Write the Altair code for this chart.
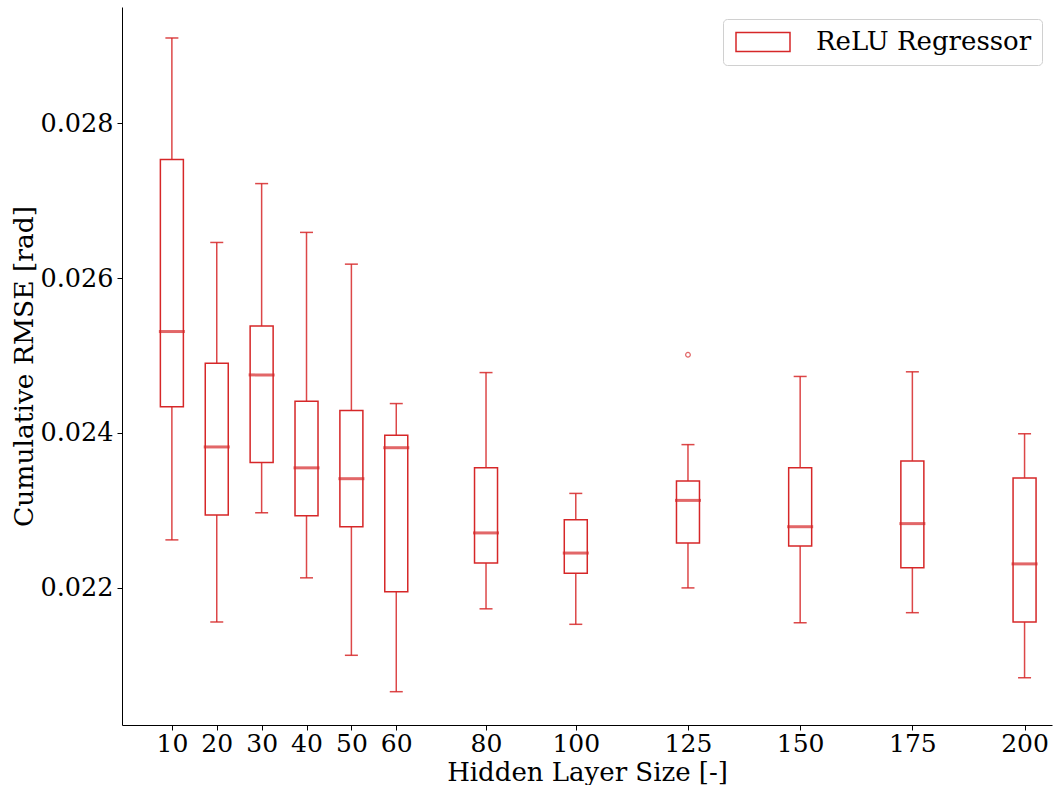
import altair as alt
import pandas as pd

sizes = [10, 20, 30, 40, 50, 60, 80, 100, 125, 150, 175, 200]
whisk_lo = [0.02262, 0.02156, 0.02297, 0.02213, 0.02113, 0.02066, 0.02173, 0.02153, 0.02200, 0.02155, 0.02168, 0.02084]
q1 = [0.02434, 0.02294, 0.02362, 0.02293, 0.02279, 0.02195, 0.02232, 0.02219, 0.02258, 0.02254, 0.02226, 0.02156]
median = [0.02531, 0.02382, 0.02475, 0.02355, 0.02341, 0.02381, 0.02271, 0.02245, 0.02313, 0.02279, 0.02283, 0.02231]
q3 = [0.02753, 0.02490, 0.02538, 0.02441, 0.02429, 0.02397, 0.02355, 0.02288, 0.02338, 0.02355, 0.02364, 0.02342]
whisk_hi = [0.02910, 0.02646, 0.02722, 0.02659, 0.02618, 0.02438, 0.02478, 0.02322, 0.02385, 0.02473, 0.02479, 0.02399]
outlier_x = [125]
outlier_y = [0.02501]
series = "ReLU Regressor"

RED = "#d62728"
FONT = "DejaVu Serif"

df = pd.DataFrame({"size": sizes, "lo": whisk_lo, "q1": q1, "med": median,
                   "q3": q3, "hi": whisk_hi, "series": series})
dfo = pd.DataFrame({"size": outlier_x, "val": outlier_y})

xscale = alt.Scale(domain=[0, 205], nice=False, zero=False)
yscale = alt.Scale(domain=[0.02023, 0.02950], nice=False, zero=False)

xax = alt.Axis(values=sizes, title="Hidden Layer Size [-]", grid=False,
               labelFont=FONT, labelFontSize=25, titleFont=FONT, titleFontSize=26,
               titleFontWeight="normal", labelColor="black", titleColor="black",
               tickSize=5, tickColor="black", domainColor="black", labelPadding=1,
               titlePadding=3, labelFlush=False, labelOverlap=False)
yax = alt.Axis(values=[0.022, 0.024, 0.026, 0.028], format=".3f", title="Cumulative RMSE [rad]",
               grid=False, labelFont=FONT, labelFontSize=25.5, titleFont=FONT, titleFontSize=26.5,
               titleFontWeight="normal", labelColor="black", titleColor="black",
               tickSize=5, tickColor="black", domainColor="black", labelPadding=4,
               titlePadding=1, labelFlush=False)

base = alt.Chart(df)

x = alt.X("size:Q", scale=xscale, axis=xax)

whisk_low = base.mark_rule(color=RED, strokeWidth=1.5, opacity=0.85).encode(
    x=x, y=alt.Y("lo:Q", scale=yscale, axis=yax), y2="q1:Q")
whisk_high = base.mark_rule(color=RED, strokeWidth=1.5, opacity=0.85).encode(
    x=alt.X("size:Q", scale=xscale), y=alt.Y("q3:Q", scale=yscale), y2="hi:Q")
cap_lo = base.mark_tick(color=RED, orient="horizontal", size=13, thickness=1.5, opacity=0.85).encode(
    x=alt.X("size:Q", scale=xscale), y=alt.Y("lo:Q", scale=yscale))
cap_hi = base.mark_tick(color=RED, orient="horizontal", size=13, thickness=1.5, opacity=0.85).encode(
    x=alt.X("size:Q", scale=xscale), y=alt.Y("hi:Q", scale=yscale))
box = base.mark_bar(size=23, fill="white", fillOpacity=0, strokeWidth=1.5).encode(
    x=alt.X("size:Q", scale=xscale), y=alt.Y("q1:Q", scale=yscale), y2="q3:Q",
    stroke=alt.Stroke("series:N", scale=alt.Scale(range=[RED]),
                      legend=alt.Legend(title=None, orient="none", legendX=601, legendY=12,
                                        symbolType="M-1,-0.95H4.4V0.95H-1Z", symbolSize=400,
                                        symbolStrokeWidth=1.5, symbolFillColor="white",
                                        labelFont=FONT, labelFontSize=26, labelColor="black",
                                        labelOffset=57, padding=10, strokeColor="#d0d0d0",
                                        fillColor="white", cornerRadius=4, labelLimit=400)))
med = base.mark_tick(color=RED, orient="horizontal", size=26, thickness=3).encode(
    x=alt.X("size:Q", scale=xscale), y=alt.Y("med:Q", scale=yscale))
outl = alt.Chart(dfo).mark_point(shape="circle", size=22, color=RED, filled=False, strokeWidth=1.2).encode(
    x=alt.X("size:Q", scale=xscale), y=alt.Y("val:Q", scale=yscale))

chart = alt.layer(whisk_low, whisk_high, cap_lo, cap_hi, box, med, outl).properties(
    width=930, height=718,
    autosize=alt.AutoSizeParams(type="none"),
    padding={"left": 122, "top": 7, "right": 5, "bottom": 60},
    background="white",
).configure_view(stroke=None)

chart.save("out.html", embed_options={"renderer": "svg", "actions": False})
